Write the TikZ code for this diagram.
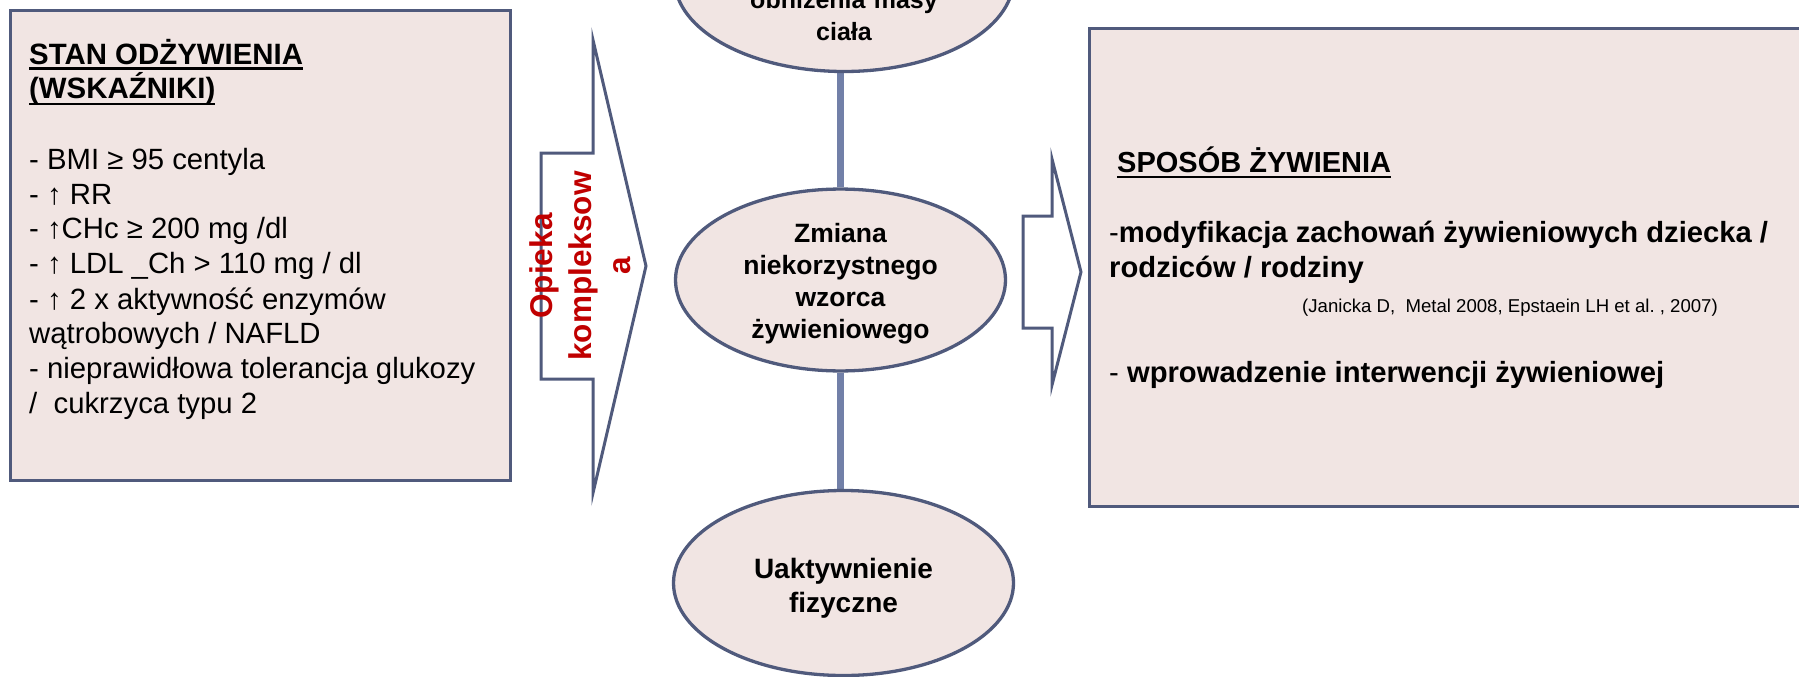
\documentclass[tikz,border=0pt]{standalone}
\usepackage{fontspec}
\setmainfont{Liberation Sans}
\newsavebox{\ulinbox}
\newcommand{\ulin}[1]{\leavevmode\sbox{\ulinbox}{#1}\hbox{\rlap{\rule[-5.9pt]{\wd\ulinbox}{2.4pt}}\usebox{\ulinbox}}}
\newcommand{\plainspaces}{\frenchspacing\spaceskip=0pt\xspaceskip=0pt\relax}
\usetikzlibrary{shapes.geometric,backgrounds}
\definecolor{edgec}{HTML}{505A7C}
\definecolor{connc}{HTML}{7280A8}
\definecolor{boxfill}{HTML}{F1E5E3}
\definecolor{opred}{HTML}{C00000}
\tikzset{
  panel/.style={draw=edgec, line width=3pt, fill=boxfill, inner sep=0pt},
  ell/.style={ellipse, draw=edgec, line width=3.3pt, fill=boxfill, inner sep=0pt, align=center},
  link/.style={draw=connc, line width=7pt},
  blockarrow/.style={draw=edgec, line width=3pt, fill=white, line join=miter},
  paneltext/.style={inner sep=0pt, anchor=base west, align=left},
}
\begin{document}
\begin{tikzpicture}[x=1pt,y=-1pt]
\useasboundingbox (0,0) rectangle (1799,677);
\clip (0,0) rectangle (1799,677);

% left panel
\node[panel, minimum width=500pt, minimum height=470pt] (lbox) at (260.5,245.5) {};
\node[paneltext, text width=480pt, font=\fontsize{29.3}{35}\selectfont] (ltext) at (29,64)
{\plainspaces{\fontsize{29.4}{35}\selectfont\bfseries\ulin{STAN ODŻYWIENIA}}\\
{\fontsize{29.4}{35}\selectfont\bfseries\ulin{(WSKAŹNIKI)}}\\[35pt]
- BMI ≥ 95 centyla\\
- ↑ RR\\
- ↑CHc ≥ 200 mg /dl\\
- ↑ LDL \_Ch > 110 mg / dl\\
- ↑ 2 x aktywność enzymów\\
wątrobowych / NAFLD\\
- nieprawidłowa tolerancja glukozy\\
/\ \ cukrzyca typu 2};

% left block arrow
\draw[blockarrow] (541,153) -- (593,153) -- (593,40) -- (646,266) -- (593,493) -- (593,379) -- (541,379) -- cycle;
\node[rotate=90, inner sep=0pt, align=center, text=opred,
      font=\bfseries\fontsize{31.5}{39}\selectfont] (opieka) at (580.3,266) {Opieka\\kompleksow\\a};

% ellipses
\node[ell, minimum width=339pt, minimum height=185pt] (top) at (844,-21) {};
\node[inner sep=0pt, anchor=base, align=center, text width=320pt,
      font=\bfseries\fontsize{25}{32}\selectfont] (toptext) at (844,9) {obniżenia masy\\ciała};
\node[ell, minimum width=330pt, minimum height=177pt,
      font=\bfseries\fontsize{26.5}{32}\selectfont] (mid) at (840.5,280)
      {\rule{0pt}{27pt}Zmiana\\niekorzystnego\\wzorca\\żywieniowego};
\node[ell, minimum width=340pt, minimum height=185pt,
      font=\bfseries\fontsize{28}{34}\selectfont] (bot) at (843.5,583)
      {\rule{0pt}{30pt}Uaktywnienie\\fizyczne};

\begin{pgfonlayer}{background}
\draw[link] (mid.north) -- (mid.north |- top.south);
\draw[link] (mid.south) -- (mid.south |- bot.north);
\end{pgfonlayer}

% right block arrow
\draw[blockarrow] (1023,216) -- (1052,216) -- (1052,159) -- (1081,272) -- (1052,385) -- (1052,328) -- (1023,328) -- cycle;

% right panel
\node[panel, minimum width=722pt, minimum height=478pt] (rbox) at (1450.5,267.5) {};
\node[paneltext, text width=690pt, font=\fontsize{29.2}{35}\selectfont] (rtext) at (1109,172)
{\plainspaces\hspace*{8pt}{\fontsize{29}{35}\selectfont\bfseries\ulin{SPOSÓB ŻYWIENIA}}\\[35pt]
-\textbf{modyfikacja zachowań żywieniowych dziecka /}\\
\textbf{rodziców / rodziny}\\
\hspace*{193pt}{\fontsize{18.6}{35}\selectfont(Janicka D,\ \ Metal 2008, Epstaein LH et al. , 2007)}\\[35pt]
- \textbf{wprowadzenie interwencji żywieniowej}};
\end{tikzpicture}
\end{document}
